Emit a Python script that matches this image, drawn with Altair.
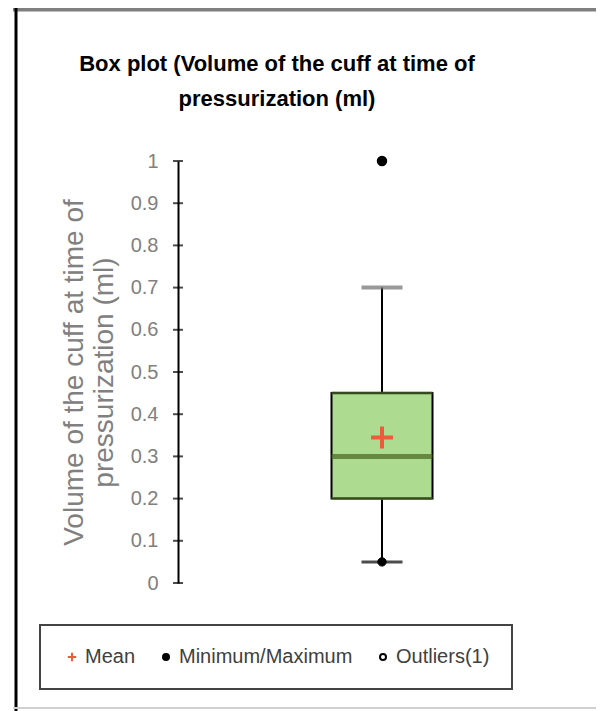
import altair as alt
import pandas as pd

# ---- data ----
category = ["Volume"]
whisker_low = [0.05]
q1 = [0.20]
median = [0.30]
q3 = [0.45]
whisker_high = [0.70]
mean_val = [0.345]
minimum = [0.05]
maximum = [1.0]
outliers = [1.0]
y_ticks = [0, 0.1, 0.2, 0.3, 0.4, 0.5, 0.6, 0.7, 0.8, 0.9, 1.0]
series_names = ["Mean", "Minimum/Maximum", "Outliers(1)"]
chart_title = ["Box plot (Volume of the cuff at time of", "pressurization (ml)"]
y_title = ["Volume of the cuff at time of", "pressurization (ml)"]

box_df = pd.DataFrame({
    "cat": category,
    "wlo": whisker_low,
    "q1": q1,
    "med": median,
    "q3": q3,
    "whi": whisker_high,
})
points_df = pd.DataFrame({
    "cat": category * 4,
    "series": ["Outliers(1)", "Minimum/Maximum", "Minimum/Maximum", "Mean"],
    "value": [outliers[0], minimum[0], maximum[0], mean_val[0]],
})
ticks_df = pd.DataFrame({"v": y_ticks})

W, H = 408, 422
xscale = alt.Scale(domain=category, paddingInner=0.2, paddingOuter=0.2)
yscale = alt.Scale(domain=[0, 1], nice=False, zero=False)

X = alt.X("cat:N", scale=xscale, axis=None)

base = alt.Chart(box_df)

whisker = base.mark_rule(color="black", strokeWidth=2).encode(
    x=X,
    y=alt.Y("wlo:Q", scale=yscale, axis=alt.Axis(
        title=y_title, values=y_ticks, format="~g", grid=False, ticks=False,
        domainColor="black", domainWidth=2, labelColor="#808080",
        labelFont="Liberation Sans", labelFontSize=20, labelPadding=20,
        titleColor="#808080", titleFont="Liberation Sans", titleFontSize=28,
        titleFontWeight="normal", titleLineHeight=30, titlePadding=12)),
    y2="whi:Q",
)
box = base.mark_bar(size=101, fill="#addb8f", stroke="black", strokeWidth=2).encode(
    x=X, y=alt.Y("q1:Q", scale=yscale), y2="q3:Q"
)
edge_lo = base.mark_tick(size=101, thickness=3, color="#4f6a2c").encode(
    x=X, y=alt.Y("q1:Q", scale=yscale)
)
edge_hi = base.mark_tick(size=101, thickness=3, color="#4f6a2c").encode(
    x=X, y=alt.Y("q3:Q", scale=yscale)
)
med = base.mark_tick(size=101, thickness=5, color="#47661f").encode(
    x=X, y=alt.Y("med:Q", scale=yscale)
)
cap_lo = base.mark_tick(size=41, thickness=3, color="black").encode(
    x=X, y=alt.Y("wlo:Q", scale=yscale)
)
cap_hi = base.mark_tick(size=41, thickness=4, color="#6e6e6e").encode(
    x=X, y=alt.Y("whi:Q", scale=yscale)
)

cross_path = "M-1.4,0H1.4M0,-1.4V1.4"
leg = alt.Legend(
    title=None, orient="none", legendX=-138, legendY=464, direction="horizontal",
    strokeColor="#444444", fillColor="white", padding=22, cornerRadius=0,
    labelFont="Liberation Sans", labelFontSize=20, labelColor="#404040",
    labelLimit=400, symbolSize=36, symbolStrokeWidth=2, labelOffset=3,
    columnPadding=20,
)
shape_enc = alt.Shape("series:N", scale=alt.Scale(domain=series_names, range=[cross_path, "circle", "circle"]), legend=leg)
stroke_enc = alt.Stroke("series:N", scale=alt.Scale(domain=series_names, range=["#f05a3c", "black", "black"]), legend=leg)
fill_enc = alt.Fill("series:N", scale=alt.Scale(domain=series_names, range=["#f05a3c", "black", "white"]), legend=leg)

pbase = alt.Chart(points_df)


def point_layer(name, size, sw):
    return pbase.transform_filter(alt.datum.series == name).mark_point(
        opacity=1, size=size, strokeWidth=sw
    ).encode(
        x=X, y=alt.Y("value:Q", scale=yscale),
        shape=shape_enc, stroke=stroke_enc, fill=fill_enc,
    )


out_pts = point_layer("Outliers(1)", 80, 1.5)
mm_pts = point_layer("Minimum/Maximum", 70, 1)
mean_pts = point_layer("Mean", 246, 4)

axis_ticks = alt.Chart(ticks_df).mark_tick(orient="horizontal", size=10, thickness=2, color="black").encode(
    y=alt.Y("v:Q", scale=yscale), x=alt.value(0)
)

frame_top = base.mark_rule(color="#7f7f7f", strokeWidth=5).encode(
    x=alt.value(-165), x2=alt.value(430), y=alt.value(-152)
)
frame_left = base.mark_rule(color="black", strokeWidth=3).encode(
    x=alt.value(-162), y=alt.value(-154), y2=alt.value(560)
)
frame_bottom = base.mark_rule(color="#d0d0d0", strokeWidth=2).encode(
    x=alt.value(-165), x2=alt.value(430), y=alt.value(547)
)

chart = alt.layer(
    frame_top, frame_left, frame_bottom,
    whisker, box, edge_lo, edge_hi, med, cap_lo, cap_hi, axis_ticks,
    out_pts, mm_pts, mean_pts,
).properties(
    width=W, height=H,
    autosize=alt.AutoSizeParams(type="none"),
    padding={"left": 170, "top": 153, "right": 10, "bottom": 128},
    title=alt.TitleParams(
        text=chart_title, font="Liberation Sans", fontSize=22, fontWeight="bold",
        lineHeight=35, anchor="middle", dx=-105, offset=0, dy=105, color="black",
    ),
).configure_view(stroke="transparent").configure_legend(strokeWidth=2)

chart.save("out.html", embed_options={"renderer": "svg", "actions": False})
